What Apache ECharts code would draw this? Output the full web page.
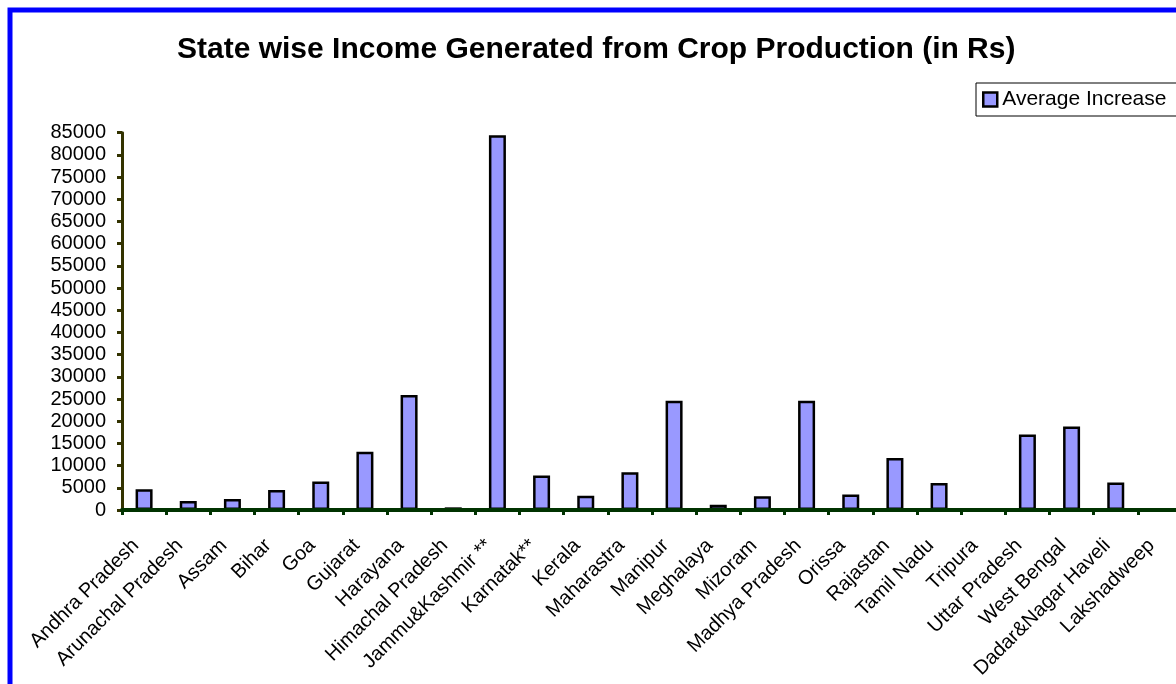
<!DOCTYPE html>
<html>
<head>
<meta charset="utf-8">
<title>State wise Income Generated from Crop Production</title>
<script src="https://cdn.jsdelivr.net/npm/echarts@6/dist/echarts.min.js"></script>
<style>
  html, body { margin: 0; padding: 0; background: #ffffff; }
  #chart { width: 1176px; height: 684px; }
</style>
</head>
<body>
<div id="chart"></div>
<script>
// States / UTs along the category axis
const states = [
  'Andhra Pradesh', 'Arunachal Pradesh', 'Assam', 'Bihar', 'Goa', 'Gujarat',
  'Harayana', 'Himachal Pradesh', 'Jammu&Kashmir **', 'Karnatak**', 'Kerala',
  'Maharastra', 'Manipur', 'Meghalaya', 'Mizoram', 'Madhya Pradesh', 'Orissa',
  'Rajastan', 'Tamil Nadu', 'Tripura', 'Uttar Pradesh', 'West Bengal',
  'Dadar&Nagar Haveli', 'Lakshadweep'
];

// Average increase in income from crop production (Rs)
const averageIncrease = [
  4700, 2000, 2500, 4500, 6400, 13100,
  25900, 600, 84400, 7800, 3200,
  8500, 24600, 1200, 3100, 24600, 3500,
  11700, 6100, 0, 17000, 18800,
  6200, 0
];

const seriesName = 'Average Increase';
const chartTitle = 'State wise Income Generated from Crop Production (in Rs)';

// Value axis range
const yMin = 0;
const yMax = 85000;
const yStep = 5000;

const FONT = '"Liberation Sans", Arial, sans-serif';

const chart = echarts.init(document.getElementById('chart'), null, { renderer: 'canvas' });

chart.setOption({
  backgroundColor: '#ffffff',
  animation: false,
  graphic: [{
    type: 'rect',
    silent: true,
    z: 100,
    shape: { x: 10, y: 10, width: 1400, height: 900 },
    style: { fill: 'none', stroke: '#0000ff', lineWidth: 5 }
  }],
  title: {
    text: chartTitle,
    left: 177,
    top: 30,
    padding: [5, 0, 5, 0],
    textStyle: { fontFamily: FONT, fontSize: 30, fontWeight: 'bold', color: '#000000' }
  },
  legend: {
    data: [seriesName],
    left: 976,
    top: 83,
    orient: 'horizontal',
    icon: 'rect',
    itemWidth: 14,
    itemHeight: 14,
    itemGap: 6,
    padding: [6, 40, 6, 6],
    borderColor: '#000000',
    borderWidth: 1,
    backgroundColor: '#ffffff',
    itemStyle: { borderWidth: 2.5, borderColor: '#000000' },
    textStyle: { fontFamily: FONT, fontSize: 21, color: '#000000' }
  },
  grid: {
    left: 122,
    top: 132.7,
    width: 1060,
    height: 377.3,
    containLabel: false,
    outerBoundsMode: 'none'
  },
  xAxis: {
    type: 'category',
    data: states,
    z: 5,
    axisLine: { show: true, lineStyle: { color: '#003300', width: 4 } },
    axisTick: { show: true, length: 5, lineStyle: { color: '#003300', width: 3 } },
    axisLabel: {
      interval: 0,
      rotate: 45,
      margin: 24,
      padding: [0, 12, 0, 0],
      fontFamily: FONT,
      fontSize: 20,
      color: '#000000'
    },
    splitLine: { show: false }
  },
  yAxis: {
    type: 'value',
    min: yMin,
    max: yMax,
    interval: yStep,
    axisLine: { show: true, lineStyle: { color: '#333300', width: 3 } },
    axisTick: { show: true, length: 5, lineStyle: { color: '#333300', width: 3 } },
    axisLabel: {
      margin: 16,
      fontFamily: FONT,
      fontSize: 20,
      color: '#000000',
      formatter: function (v) { return String(v); }
    },
    splitLine: { show: false }
  },
  series: [{
    name: seriesName,
    type: 'bar',
    data: averageIncrease,
    barWidth: 17,
    itemStyle: {
      color: '#9999ff',
      borderColor: '#000000',
      borderWidth: 2.5
    }
  }]
});
</script>
</body>
</html>
